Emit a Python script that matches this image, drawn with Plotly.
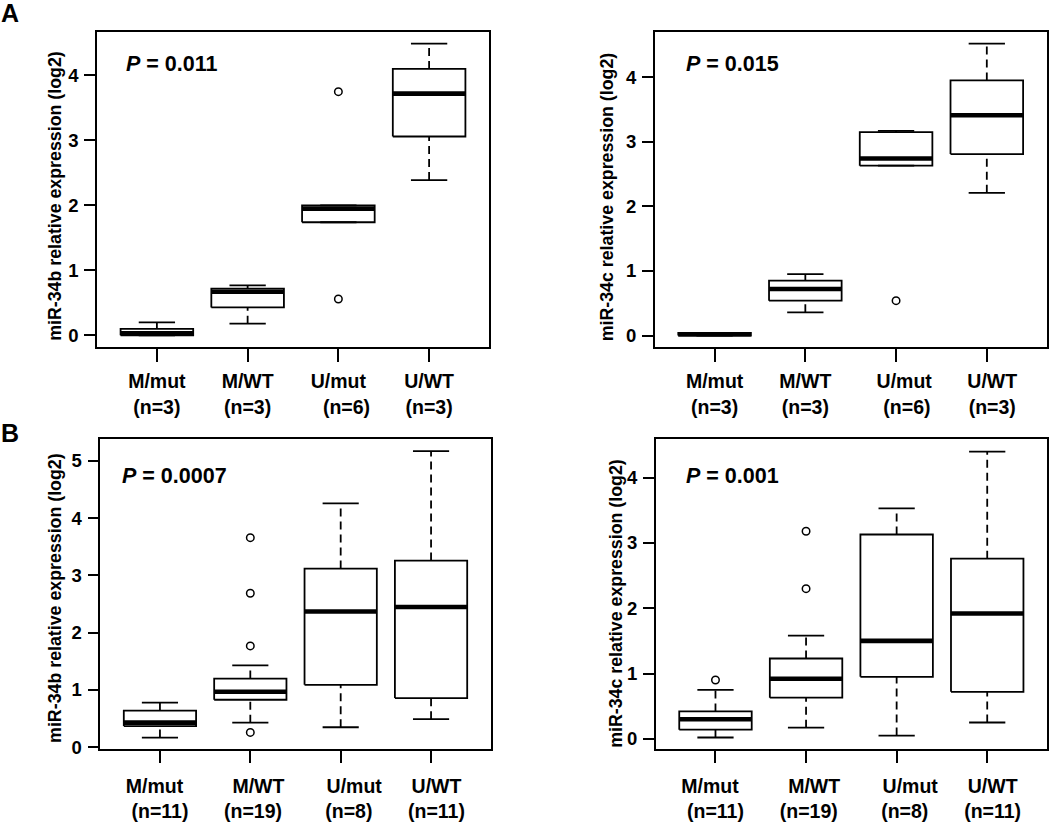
import plotly.graph_objects as go

# ---------------- data ----------------
groups = ["M/mut", "M/WT", "U/mut", "U/WT"]
n_A = [3, 3, 6, 3]
n_B = [11, 19, 8, 11]

# Panel A, miR-34b
a34b_lo = [0.00, 0.18, 1.74, 2.39]
a34b_q1 = [0.00, 0.43, 1.74, 3.06]
a34b_med = [0.03, 0.67, 1.95, 3.72]
a34b_q3 = [0.10, 0.72, 2.00, 4.10]
a34b_hi = [0.20, 0.77, 2.00, 4.49]
a34b_out_x = [3, 3]
a34b_out_y = [3.75, 0.56]

# Panel A, miR-34c
a34c_lo = [0.00, 0.36, 2.63, 2.21]
a34c_q1 = [0.00, 0.54, 2.63, 2.81]
a34c_med = [0.02, 0.72, 2.74, 3.41]
a34c_q3 = [0.04, 0.85, 3.15, 3.95]
a34c_hi = [0.04, 0.95, 3.17, 4.52]
a34c_out_x = [3]
a34c_out_y = [0.54]

# Panel B, miR-34b
b34b_lo = [0.17, 0.43, 0.35, 0.49]
b34b_q1 = [0.37, 0.83, 1.09, 0.86]
b34b_med = [0.43, 0.97, 2.37, 2.45]
b34b_q3 = [0.64, 1.20, 3.12, 3.26]
b34b_hi = [0.78, 1.43, 4.26, 5.17]
b34b_out_x = [2, 2, 2, 2]
b34b_out_y = [3.66, 2.69, 1.77, 0.26]

# Panel B, miR-34c
b34c_lo = [0.02, 0.17, 0.05, 0.25]
b34c_q1 = [0.14, 0.63, 0.95, 0.72]
b34c_med = [0.30, 0.92, 1.50, 1.92]
b34c_q3 = [0.42, 1.23, 3.13, 2.76]
b34c_hi = [0.75, 1.58, 3.53, 4.40]
b34c_out_x = [1, 2, 2]
b34c_out_y = [0.90, 3.18, 2.30]

p_values = ["0.011", "0.015", "0.0007", "0.001"]
y_titles = ["miR-34b relative expression (log2)", "miR-34c relative expression (log2)",
            "miR-34b relative expression (log2)", "miR-34c relative expression (log2)"]
panel_letters = ["A", "B"]

# ---------------- styling / layout ----------------
W, H = 1050, 823
FONT = "Liberation Sans, Arial, Helvetica, sans-serif"
NB = "\u00a0"

def px_x(v):
    return v / W

def px_y(v):
    return 1 - v / H

# (x0, x1, ytop, ybottom) in pixels for each panel's plot region
frames = [(97, 489, 32.3, 351), (654.7, 1046.7, 32.3, 351),
          (100.3, 490.7, 444.3, 757), (655.7, 1047, 444.3, 757)]
yranges = [[-0.182, 4.669], [-0.18, 4.70], [-0.025, 5.375], [-0.152, 4.586]]
ymaxtick = [4, 4, 5, 4]
# label padding (leading nbsp on line1, line2; trailing nbsp on line1)
pads = [
    [(0, 0, 0), (0, 0, 0), (0, 3, 0), (0, 0, 0)],
    [(0, 0, 0), (0, 0, 0), (3, 4, 0), (2, 2, 0)],
    [(0, 0, 2), (3, 1, 0), (5, 3, 0), (2, 2, 0)],
    [(0, 0, 2), (3, 1, 0), (5, 3, 0), (2, 2, 0)],
]
xlab_standoff = [3, 3, 6, 6]
ytitle_x = [55, 606.5, 55.5, 616.5]
ytitle_y = [198, 199, 605, 610]
ptext_pos = [(124, 65), (684, 65), (120, 481), (684, 481.7)]

panels = [
    (a34b_lo, a34b_q1, a34b_med, a34b_q3, a34b_hi, a34b_out_x, a34b_out_y, n_A),
    (a34c_lo, a34c_q1, a34c_med, a34c_q3, a34c_hi, a34c_out_x, a34c_out_y, n_A),
    (b34b_lo, b34b_q1, b34b_med, b34b_q3, b34b_hi, b34b_out_x, b34b_out_y, n_B),
    (b34c_lo, b34c_q1, b34c_med, b34c_q3, b34c_hi, b34c_out_x, b34c_out_y, n_B),
]

BOXW = 0.4     # half box width (R boxwex 0.8)
STAPW = 0.2    # half staple width
LW = 1.8

fig = go.Figure()
layout = dict(width=W, height=H, margin=dict(l=0, r=0, t=0, b=0),
              paper_bgcolor="white", plot_bgcolor="white", showlegend=False)
annotations = []

for k, (lo, q1, med, q3, hi, ox, oy, ns) in enumerate(panels):
    xa = "x" if k == 0 else f"x{k+1}"
    ya = "y" if k == 0 else f"y{k+1}"
    wx, wy, bx, by, mx, my, sx, sy = [], [], [], [], [], [], [], []
    for i in range(len(groups)):
        c = i + 1
        wx += [c, c, None, c, c, None]
        wy += [q3[i], hi[i], None, lo[i], q1[i], None]
        sx += [c - STAPW, c + STAPW, None, c - STAPW, c + STAPW, None]
        sy += [hi[i], hi[i], None, lo[i], lo[i], None]
        bx += [c - BOXW, c + BOXW, c + BOXW, c - BOXW, c - BOXW, None]
        by += [q1[i], q1[i], q3[i], q3[i], q1[i], None]
        mx += [c - BOXW, c + BOXW, None]
        my += [med[i], med[i], None]
    fig.add_trace(go.Scatter(x=wx, y=wy, mode="lines", xaxis=xa, yaxis=ya,
                             line=dict(color="black", width=LW, dash="8px,5px"), hoverinfo="skip"))
    fig.add_trace(go.Scatter(x=sx, y=sy, mode="lines", xaxis=xa, yaxis=ya,
                             line=dict(color="black", width=LW), hoverinfo="skip"))
    fig.add_trace(go.Scatter(x=bx, y=by, mode="lines", xaxis=xa, yaxis=ya,
                             line=dict(color="black", width=LW), hoverinfo="skip"))
    fig.add_trace(go.Scatter(x=mx, y=my, mode="lines", xaxis=xa, yaxis=ya,
                             line=dict(color="black", width=4.6), hoverinfo="skip"))
    fig.add_trace(go.Scatter(x=ox, y=oy, mode="markers", xaxis=xa, yaxis=ya,
                             marker=dict(symbol="circle-open", size=7.5, color="black",
                                         line=dict(width=1.5, color="black")), hoverinfo="skip"))

    x0, x1, yt, yb = frames[k]
    ticktext = []
    for i, g in enumerate(groups):
        p1, p2, t1 = pads[k][i]
        ticktext.append(NB * p1 + g + NB * t1 + "<br>" + NB * p2 + f"(n={ns[i]})")
    xkey = "xaxis" if k == 0 else f"xaxis{k+1}"
    ykey = "yaxis" if k == 0 else f"yaxis{k+1}"
    layout[xkey] = dict(domain=[px_x(x0), px_x(x1)], range=[0.34, 4.66], anchor=ya,
                        tickmode="array", tickvals=[1, 2, 3, 4], ticktext=ticktext,
                        ticks="outside", ticklen=13, tickwidth=1.5, tickcolor="black",
                        ticklabelstandoff=xlab_standoff[k],
                        showline=True, mirror=True, linecolor="black", linewidth=1.5,
                        showgrid=False, zeroline=False, fixedrange=True,
                        tickfont=dict(family=FONT, size=19.5, color="black", weight="bold"))
    layout[ykey] = dict(domain=[px_y(yb), px_y(yt)], range=yranges[k], anchor=xa,
                        tickmode="array", tickvals=list(range(0, ymaxtick[k] + 1)),
                        ticks="outside", ticklen=11, tickwidth=1.5, tickcolor="black",
                        ticklabelstandoff=2,
                        showline=True, mirror=True, linecolor="black", linewidth=1.5,
                        showgrid=False, zeroline=False, fixedrange=True,
                        tickfont=dict(family=FONT, size=18.5, color="black", weight="bold"))
    annotations.append(dict(xref="paper", yref="paper", x=px_x(ytitle_x[k]), y=px_y(ytitle_y[k]),
                            text=y_titles[k], textangle=-90, showarrow=False,
                            xanchor="center", yanchor="middle",
                            font=dict(family=FONT, size=17.8, color="black", weight="bold")))
    px_, py_ = ptext_pos[k]
    annotations.append(dict(xref="paper", yref="paper", x=px_x(px_), y=px_y(py_),
                            text=f"<i>P</i> = {p_values[k]}", showarrow=False,
                            xanchor="left", yanchor="middle",
                            font=dict(family=FONT, size=21.5, color="black", weight="bold")))

annotations.append(dict(xref="paper", yref="paper", x=0, y=px_y(13), text=panel_letters[0],
                        showarrow=False, xanchor="left", yanchor="middle", borderpad=0,
                        font=dict(family=FONT, size=25, color="black", weight="bold")))
annotations.append(dict(xref="paper", yref="paper", x=0, y=px_y(438), text=panel_letters[1],
                        showarrow=False, xanchor="left", yanchor="middle", borderpad=0,
                        font=dict(family=FONT, size=25, color="black", weight="bold")))

layout["annotations"] = annotations
fig.update_layout(**layout)
fig.write_html("out.html", config={"displayModeBar": False},
               post_script="document.body.style.margin='0';document.body.style.overflow='hidden';")
